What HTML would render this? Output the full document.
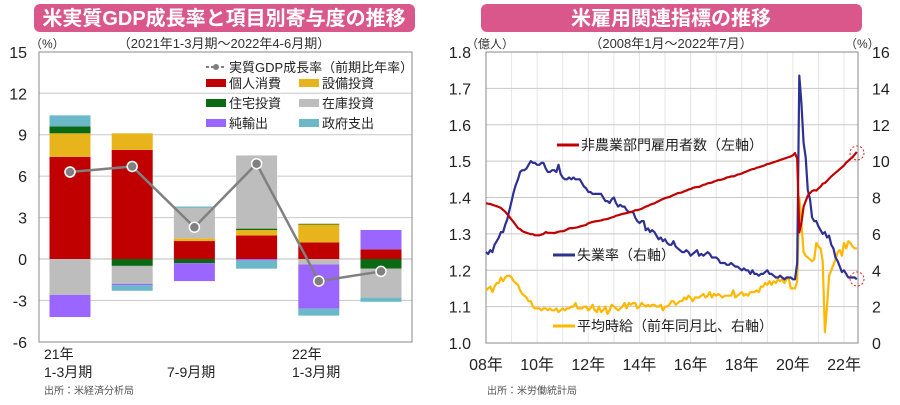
<!DOCTYPE html>
<html><head><meta charset="utf-8">
<style>
html,body{margin:0;padding:0;background:#fff;}
body{width:900px;height:400px;overflow:hidden;font-family:"Liberation Sans","Noto Sans CJK JP",sans-serif;}
svg text{font-family:"Liberation Sans","Noto Sans CJK JP",sans-serif;}
</style></head>
<body>
<svg id="c" width="900" height="400" xmlns="http://www.w3.org/2000/svg">
<g>
<rect x="34" y="4" width="381" height="28" rx="6" fill="#d9578b"/>
<text x="224" y="25" text-anchor="middle" font-size="20" font-weight="bold" fill="#fff">米実質GDP成長率と項目別寄与度の推移</text>
<text x="224" y="48" text-anchor="middle" font-size="13" fill="#333">（2021年1-3月期～2022年4-6月期）</text>
<text x="30" y="48" font-size="12" fill="#333">（%）</text>
<g id="gl"></g>
<rect x="39" y="52" width="373" height="290" fill="none" stroke="#888" stroke-width="1"/>
<g>
<line x1="206" y1="67" x2="226" y2="67" stroke="#808080" stroke-width="2" stroke-dasharray="3,2"/>
<circle cx="216" cy="67" r="3" fill="#808080"/>
<text x="229" y="72" font-size="13" fill="#222">実質GDP成長率（前期比年率）</text>
<rect x="206" y="79" width="20" height="8" fill="#c00000"/><text x="229" y="88" font-size="13" fill="#222">個人消費</text>
<rect x="299" y="79" width="20" height="8" fill="#e8b41c"/><text x="322" y="88" font-size="13" fill="#222">設備投資</text>
<rect x="206" y="99" width="20" height="8" fill="#0a6a14"/><text x="229" y="108" font-size="13" fill="#222">住宅投資</text>
<rect x="299" y="99" width="20" height="8" fill="#bdbdbd"/><text x="322" y="108" font-size="13" fill="#222">在庫投資</text>
<rect x="206" y="119" width="20" height="8" fill="#9a66ff"/><text x="229" y="128" font-size="13" fill="#222">純輸出</text>
<rect x="299" y="119" width="20" height="8" fill="#6ab8c8"/><text x="322" y="128" font-size="13" fill="#222">政府支出</text>
</g>
<g id="gb"></g>
<text x="44" y="359" font-size="14" fill="#222">21年</text>
<text x="44" y="377" font-size="14" fill="#222">1-3月期</text>
<text x="167" y="377" font-size="14" fill="#222">7-9月期</text>
<text x="292" y="359" font-size="14" fill="#222">22年</text>
<text x="292" y="377" font-size="14" fill="#222">1-3月期</text>
<text x="44" y="394" font-size="10" fill="#555">出所：米経済分析局</text>
</g>
<g>
<rect x="481" y="4" width="381" height="28" rx="6" fill="#d9578b"/>
<text x="671" y="25" text-anchor="middle" font-size="20" font-weight="bold" fill="#fff">米雇用関連指標の推移</text>
<text x="671" y="48" text-anchor="middle" font-size="13" fill="#333">（2008年1月～2022年7月）</text>
<text x="466" y="48" font-size="12" fill="#333">（億人）</text>
<text x="845" y="48" font-size="12" fill="#333">（%）</text>
<g id="rg"></g>
<rect x="486" y="52" width="372" height="291" fill="none" stroke="#888"/>
<g id="rl"></g>
<circle cx="857" cy="153" r="7" fill="none" stroke="#e02020" stroke-dasharray="2,2"/>
<circle cx="857" cy="279" r="7" fill="none" stroke="#e02020" stroke-dasharray="2,2"/>
<line x1="557" y1="145" x2="579" y2="145" stroke="#c00000" stroke-width="3"/>
<text x="581" y="150" font-size="14" fill="#222">非農業部門雇用者数（左軸）</text>
<line x1="553" y1="255" x2="575" y2="255" stroke="#2e3192" stroke-width="3"/>
<text x="577" y="260" font-size="14" fill="#222">失業率（右軸）</text>
<line x1="553" y1="326" x2="575" y2="326" stroke="#ffb800" stroke-width="3"/>
<text x="577" y="331" font-size="14" fill="#222">平均時給（前年同月比、右軸）</text>
<text x="487" y="394" font-size="10" fill="#555">出所：米労働統計局</text>
</g>
</svg>
<script>
// ---- GDP chart data ----
const quarters=["21Q1","21Q2","21Q3","21Q4","22Q1","22Q2"];
const consumption=[7.4,7.9,1.3,1.7,1.2,0.7];
const equipment=[1.7,1.2,0.2,0.4,1.3,0.0];
const residential=[0.5,-0.5,-0.3,0.1,0.05,-0.7];
const inventory=[-2.6,-1.3,2.2,5.3,-0.4,-2.1];
const netExports=[-1.6,-0.1,-1.3,-0.1,-3.2,1.4];
const government=[0.8,-0.4,0.1,-0.6,-0.5,-0.3];
const gdpGrowth=[6.3,6.7,2.3,6.9,-1.6,-0.9];
const gdpTicks=[-6,-3,0,3,6,9,12,15];

// ---- Employment chart data (monthly 2008-01 .. 2022-07) ----
const payrolls=[138.4,138.3,138.2,138.0,137.8,137.6,137.4,137.1,136.6,136.1,135.4,134.7,
133.9,133.2,132.4,131.6,131.3,130.8,130.5,130.3,130.1,129.9,129.9,129.6,
129.6,129.6,129.8,130.0,130.5,130.3,130.3,130.3,130.2,130.4,130.6,130.7,
130.7,130.9,131.2,131.5,131.6,131.6,131.7,131.8,132.0,132.2,132.3,132.5,
132.9,133.1,133.3,133.4,133.5,133.6,133.7,133.9,134.0,134.1,134.3,134.5,
134.7,135.0,135.1,135.3,135.5,135.6,135.7,135.9,136.0,136.2,136.5,136.5,
136.7,136.9,137.2,137.5,137.7,138.0,138.2,138.4,138.7,139.0,139.3,139.6,
139.8,140.0,140.1,140.4,140.7,140.9,141.2,141.3,141.4,141.7,141.9,142.2,
142.3,142.6,142.8,142.9,142.9,143.2,143.5,143.6,143.9,144.0,144.1,144.4,
144.6,144.8,144.8,145.0,145.2,145.5,145.6,145.8,145.8,146.0,146.3,146.4,
146.6,146.9,147.1,147.3,147.6,147.8,147.9,148.2,148.3,148.5,148.7,148.9,
149.2,149.3,149.5,149.7,149.9,150.1,150.3,150.5,150.7,150.9,151.1,151.3,
151.6,152.2,150.7,130.4,133.0,137.5,139.0,140.5,141.2,141.8,142.0,141.9,
142.5,143.0,143.8,144.0,144.5,145.2,145.8,146.3,146.8,147.3,147.8,148.3,
148.8,149.6,150.1,150.6,151.1,151.8,152.5];
const unemployment=[5.0,4.9,5.1,5.0,5.4,5.6,5.8,6.1,6.1,6.5,6.8,7.3,
7.8,8.3,8.7,9.0,9.4,9.5,9.5,9.6,9.8,10.0,9.9,9.9,
9.8,9.8,9.9,9.9,9.6,9.4,9.4,9.5,9.5,9.4,9.8,9.3,
9.1,9.0,9.0,9.1,9.0,9.1,9.0,9.0,9.0,8.8,8.6,8.5,
8.3,8.3,8.2,8.2,8.2,8.2,8.2,8.0,7.8,7.8,7.7,7.9,
8.0,7.7,7.5,7.6,7.5,7.5,7.3,7.2,7.2,7.2,6.9,6.7,
6.6,6.7,6.7,6.2,6.3,6.1,6.2,6.1,5.9,5.7,5.8,5.6,
5.7,5.5,5.4,5.4,5.6,5.3,5.2,5.1,5.0,5.0,5.1,5.0,
4.8,4.9,5.0,5.1,4.8,4.9,4.8,4.9,5.0,4.9,4.7,4.7,
4.7,4.6,4.4,4.4,4.4,4.3,4.3,4.4,4.3,4.2,4.2,4.1,
4.0,4.1,4.0,4.0,3.8,4.0,3.8,3.8,3.7,3.8,3.8,3.9,
4.0,3.8,3.8,3.7,3.6,3.6,3.7,3.6,3.5,3.6,3.6,3.6,
3.5,3.5,4.4,14.7,13.2,11.0,10.2,8.4,7.9,6.9,6.7,6.7,
6.4,6.2,6.0,6.1,5.8,5.9,5.4,5.2,4.7,4.5,4.2,3.9,
4.0,3.8,3.6,3.6,3.6,3.6,3.5];
const earnings=[2.9,3.0,3.1,2.8,3.1,3.3,3.3,3.6,3.4,3.6,3.7,3.7,
3.6,3.4,3.3,3.2,2.9,2.7,2.6,2.5,2.3,2.3,2.0,1.9,
1.9,1.9,1.8,1.9,1.9,1.8,1.9,1.8,1.8,1.9,1.7,1.8,
1.9,1.8,1.9,1.9,2.0,2.0,2.2,1.9,1.9,1.9,2.0,2.0,
1.8,1.9,2.1,1.8,1.7,2.0,1.7,1.8,2.0,1.6,1.8,2.1,
2.0,1.9,1.8,1.9,2.0,2.2,1.9,2.2,2.1,2.2,2.2,1.9,
2.0,2.2,2.1,2.0,2.1,2.0,2.1,2.1,2.0,2.0,2.1,1.8,
2.0,2.0,2.1,2.3,2.3,2.1,2.2,2.3,2.3,2.5,2.4,2.6,
2.5,2.3,2.5,2.5,2.5,2.6,2.7,2.5,2.6,2.8,2.5,2.7,
2.6,2.7,2.6,2.5,2.6,2.6,2.6,2.6,2.9,2.5,2.6,2.7,
2.8,2.6,2.7,2.6,2.8,2.8,2.8,2.9,2.8,3.1,3.1,3.3,
3.2,3.4,3.2,3.4,3.3,3.5,3.4,3.5,3.3,3.5,3.6,3.0,
3.0,3.0,3.4,8.0,6.6,5.0,4.8,4.7,4.6,4.5,4.6,5.5,
5.3,5.2,4.5,0.6,2.0,3.7,4.0,4.3,4.6,5.0,5.1,4.8,
5.5,5.2,5.6,5.5,5.3,5.2,5.2];
const leftTicks=["1.0","1.1","1.2","1.3","1.4","1.5","1.6","1.7","1.8"];
const rightTicks=[0,2,4,6,8,10,12,14,16];
const yearLabels=["08年","10年","12年","14年","16年","18年","20年","22年"];

const NS="http://www.w3.org/2000/svg";
function mk(tag,attrs,parent){const e=document.createElementNS(NS,tag);for(const k in attrs)e.setAttribute(k,attrs[k]);parent.appendChild(e);return e;}

// GDP axes
const gy=v=>259-v*(290/21);
const gx=i=>70+i*62.2;
const gl=document.getElementById('gl');
gdpTicks.forEach(t=>{
  const y=gy(t);
  if(t>-6&&t<15){const l=mk('line',{x1:39,x2:412,y1:y,y2:y,stroke:t===0?'#dddddd':'#c8c8c8','stroke-width':t===0?2:1},gl);
  
  }
  const tx=mk('text',{x:27,y:y+6,'text-anchor':'end','font-size':16,fill:'#222'},gl);
  tx.textContent=String(t);
  
  
});
const gb=document.getElementById('gb');
const seriesList=[[consumption,'#c00000'],[equipment,'#e8b41c'],[residential,'#0a6a14'],[inventory,'#bdbdbd'],[netExports,'#9a66ff'],[government,'#6ab8c8']];
const segNames=['consumption','equipment','residential','inventory','net-exports','government'];
quarters.forEach((q,i)=>{
  let pos=0,neg=0;
  seriesList.forEach(([arr,col],s)=>{
    const v=arr[i];if(!v)return;
    let a,b;
    if(v>0){a=pos;b=pos+v;pos=b;}else{a=neg;b=neg+v;neg=b;}
    const y1=gy(Math.max(a,b)),y2=gy(Math.min(a,b));
    const r=mk('rect',{x:gx(i)-20.5,y:y1,width:41,height:Math.max(0.5,y2-y1),fill:col},gb);
    
    
  });
});
const pts=gdpGrowth.map((v,i)=>gx(i)+','+gy(v)).join(' ');
const pl=mk('polyline',{points:pts,fill:'none',stroke:'#808080','stroke-width':2.5},gb);


gdpGrowth.forEach((v,i)=>{
  const c=mk('circle',{cx:gx(i),cy:gy(v),r:5,fill:'#808080',stroke:'#fff','stroke-width':1.5},gb);
  
  
});

// Employment axes
const rx=m=>486+m*(51.15/24);
const ryL=v=>343-(v/100-1.0)/0.8*291;
const ryR=v=>343-v/16*291;
const rg=document.getElementById('rg');
for(let yr=0;yr<=14;yr++){
  const x=rx(yr*12);
  const l=mk('line',{x1:x,x2:x,y1:52,y2:343,stroke:'#e6e6e6','stroke-width':1},rg);
  
  
}
rightTicks.forEach((t,i)=>{
  const y=ryR(t);
  const l=mk('line',{x1:486,x2:858,y1:y,y2:y,stroke:'#c8c8c8','stroke-width':1},rg);
  
  
  const a=mk('text',{x:471,y:y+6,'text-anchor':'end','font-size':16,fill:'#222'},rg);
  a.textContent=leftTicks[i];
  
  
  const b=mk('text',{x:872,y:y+6,'text-anchor':'start','font-size':16,fill:'#222'},rg);
  b.textContent=String(t);
  
  
});
yearLabels.forEach((lab,i)=>{
  const t=mk('text',{x:rx(i*24),y:370,'text-anchor':'middle','font-size':16,fill:'#222'},rg);
  t.textContent=lab;
  
  
});
const rl=document.getElementById('rl');
function line(arr,fy,col,name){
  const p=mk('polyline',{points:arr.map((v,i)=>rx(i).toFixed(1)+','+fy(v).toFixed(1)).join(' '),fill:'none',stroke:col,'stroke-width':2.2,'stroke-linejoin':'round'},rl);
  
  
}
line(earnings,ryR,'#ffb800','earnings-line');
line(unemployment,ryR,'#2e3192','unemployment-line');
line(payrolls,ryL,'#c00000','payrolls-line');
</script>
</body></html>
